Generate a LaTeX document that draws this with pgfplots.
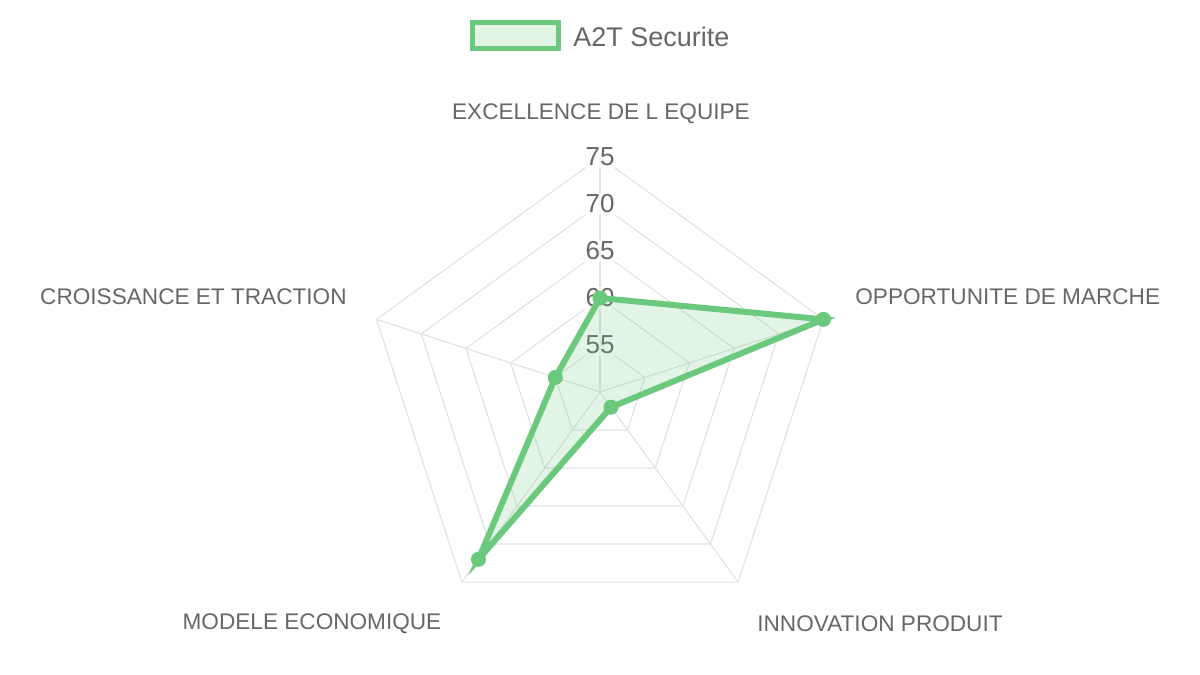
\documentclass[border=0pt]{standalone}
\usepackage{pgfplots}
\pgfplotsset{compat=1.18}
\usepgfplotslibrary{polar}
\usepackage{fontspec}
\setmainfont{Liberation Sans}
\definecolor{lgreen}{HTML}{6BC97E}
\definecolor{txtgray}{HTML}{666666}
\definecolor{gridgray}{HTML}{E2E2E2}
\pgfplotsset{radar/.style={
  at={(300pt,141.5pt)}, anchor=center,
  scale only axis, width=235pt, height=235pt,
  hide axis, clip=false,
  xmin=0, xmax=360, ymin=50, ymax=75,
  y coord trafo/.code={\pgfmathparse{##1-50}},
  y coord inv trafo/.code={\pgfmathparse{##1+50}},
}}
\begin{document}
\begin{tikzpicture}[x=1pt,y=1pt]
\path (0,0) rectangle (600,337.5);
\begin{polaraxis}[radar]
% grid pentagons
\addplot[gridgray, line width=0.6pt, no marks] coordinates {(90,55)(18,55)(306,55)(234,55)(162,55)(90,55)};
\addplot[gridgray, line width=0.6pt, no marks] coordinates {(90,60)(18,60)(306,60)(234,60)(162,60)(90,60)};
\addplot[gridgray, line width=0.6pt, no marks] coordinates {(90,65)(18,65)(306,65)(234,65)(162,65)(90,65)};
\addplot[gridgray, line width=0.6pt, no marks] coordinates {(90,70)(18,70)(306,70)(234,70)(162,70)(90,70)};
\addplot[gridgray, line width=0.6pt, no marks] coordinates {(90,75)(18,75)(306,75)(234,75)(162,75)(90,75)};
% spokes
\addplot[gridgray, line width=0.6pt, no marks] coordinates {(90,50)(90,75)};
\addplot[gridgray, line width=0.6pt, no marks] coordinates {(18,50)(18,75)};
\addplot[gridgray, line width=0.6pt, no marks] coordinates {(306,50)(306,75)};
\addplot[gridgray, line width=0.6pt, no marks] coordinates {(234,50)(234,75)};
\addplot[gridgray, line width=0.6pt, no marks] coordinates {(162,50)(162,75)};
\end{polaraxis}
% tick labels with backdrop
\foreach \v/\yy in {55/165, 60/188.5, 65/212, 70/235.5, 75/259}
  \node[text=txtgray, fill=white, fill opacity=0.75, text opacity=1, font=\fontsize{13}{15}\selectfont, inner xsep=1pt, inner ysep=1pt] at (300,\yy) {\v};
\begin{polaraxis}[radar]
% data
\addplot[draw=lgreen, line width=3pt, fill=lgreen, fill opacity=0.2, draw opacity=1,
  mark=*, mark size=3.5pt, mark options={fill=lgreen, draw=lgreen, fill opacity=1, line width=0.5pt}]
  coordinates {(90,60)(18,75)(306,52)(234,72)(162,55)} -- cycle;
\end{polaraxis}
% category labels
\begin{scope}[every node/.style={text=txtgray, font=\fontsize{11.3}{13}\selectfont, inner sep=0pt}]
\node at (300.5,280.5) {EXCELLENCE DE L EQUIPE};
\node[anchor=west] at (427.5,189) {OPPORTUNITE DE MARCHE};
\node[anchor=east] at (173.5,189) {CROISSANCE ET TRACTION};
\node at (440,25.5) {INNOVATION PRODUIT};
\node at (156,25.5) {MODELE ECONOMIQUE};
\end{scope}
% legend
\draw[lgreen, line width=2.5pt, fill=lgreen!20] (236,313) rectangle (279,326);
\node[anchor=west, text=txtgray, font=\fontsize{13.5}{16}\selectfont, inner sep=0pt] at (286.5,319) {A2T Securite};
\end{tikzpicture}
\end{document}
